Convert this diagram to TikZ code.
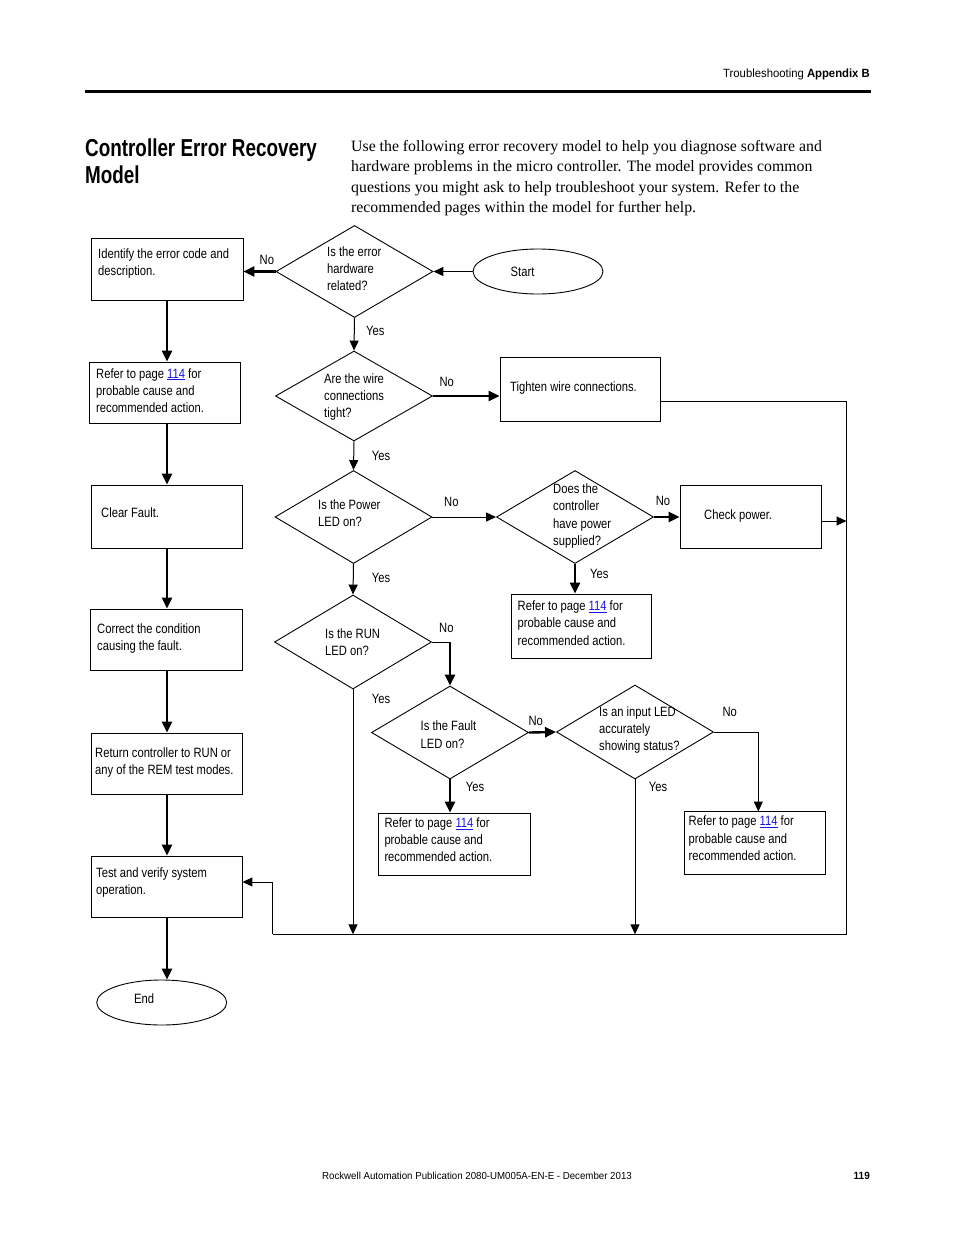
\documentclass[tikz,border=0pt]{standalone}
\usepackage{fontspec}
\setmainfont{Liberation Sans}[FakeStretch=0.83]
\newfontfamily\titlefont{Liberation Sans}[FakeStretch=0.77]
\newfontfamily\hdrfont{Liberation Sans}[FakeStretch=0.95]
\newfontfamily\bodyfont{Liberation Serif}
\usetikzlibrary{arrows.meta,shapes.geometric}
\definecolor{linkblue}{RGB}{20,20,235}
\newcommand{\fc}{\fontsize{13.5}{17.3}\selectfont}
\newcommand{\pg}{\textcolor{linkblue}{\underline{114}}}
\newcommand{\tb}[1]{\parbox[t]{230pt}{\fc\raggedright #1}}
\tikzset{
  box/.style={draw, rectangle, line width=0.9pt, inner sep=0pt},
  dia/.style={draw, diamond, line width=0.9pt, inner sep=0pt, minimum width=157pt},
  ell/.style={draw, ellipse, line width=0.9pt, inner sep=0pt, minimum width=130pt, minimum height=45pt},
  txt/.style={anchor=base west, inner sep=0pt},
  thk/.style={line width=2.4pt, -{Triangle[length=11pt,width=10pt]}},
  thn/.style={line width=1pt, -{Triangle[length=10pt,width=9pt]}},
  ln/.style={line width=1pt},
}
\begin{document}
\begin{tikzpicture}[x=1pt,y=-1pt]
\useasboundingbox (0,0) rectangle (954,1235);
% header
\node[anchor=base east, inner sep=0pt] (hdr) at (870,77.5) {\hdrfont\fontsize{11.9}{13}\selectfont Troubleshooting \textbf{Appendix B}};
\coordinate (ruleL) at (85,91.5);
\coordinate (ruleR) at (871,91.5);
\draw[line width=3pt] (ruleL) -- (ruleR);
% title and intro
\node[txt] (title) at (85,156.5) {\parbox[t]{260pt}{\titlefont\bfseries\fontsize{24.5}{26.5}\selectfont Controller Error Recovery\\Model}};
\node[txt] (intro) at (351,151.5) {\parbox[t]{520pt}{\bodyfont\fontsize{15.8}{20.3}\selectfont Use the following error recovery model to help you diagnose software and\\hardware problems in the micro controller. The model provides common\\questions you might ask to help troubleshoot your system. Refer to the\\recommended pages within the model for further help.}};
% footer
\node[anchor=base, inner sep=0pt] (foot) at (477,1179) {\hdrfont\fontsize{10.2}{12}\selectfont Rockwell Automation Publication 2080-UM005A-EN-E - December 2013};
\node[anchor=base east, inner sep=0pt] (pno) at (870,1179) {\hdrfont\fontsize{10.5}{12}\selectfont\bfseries 119};

% left column
\node[box, minimum width=152pt, minimum height=62pt] (b1) at (167,269) {};
\node[box, minimum width=151pt, minimum height=61pt] (b2) at (164.5,392.5) {};
\node[box, minimum width=151pt, minimum height=63pt] (b3) at (166.5,516.5) {};
\node[box, minimum width=152pt, minimum height=61pt] (b4) at (166,639.5) {};
\node[box, minimum width=151pt, minimum height=61pt] (b5) at (166.5,763.5) {};
\node[box, minimum width=151pt, minimum height=61pt] (b6) at (166.5,886.5) {};
\node[ell] (endn) at (161.7,1002.5) {};

\node[txt] (t1) at (98,258) {\tb{Identify the error code and\\description.}};
\node[txt] (t2) at (96,378) {\tb{Refer to page \pg{} for\\probable cause and\\recommended action.}};
\node[txt] (t3) at (101,517.7) {\tb{Clear Fault.}};
\node[txt] (t4) at (97,633) {\tb{Correct the condition\\causing the fault.}};
\node[txt] (t5) at (95,757) {\tb{Return controller to RUN or\\any of the REM test modes.}};
\node[txt] (t6) at (96,877) {\tb{Test and verify system\\operation.}};
\node[txt] (tend) at (134,1003) {\tb{End}};

\draw[thk] (b1.south) -- (b1.south |- b2.north);
\draw[thk] (b2.south -| b1.south) -- (b1.south |- b3.north);
\draw[thk] (b3.south -| b1.south) -- (b1.south |- b4.north);
\draw[thk] (b4.south -| b1.south) -- (b1.south |- b5.north);
\draw[thk] (b5.south -| b1.south) -- (b1.south |- b6.north);
\draw[thk] (b6.south -| b1.south) -- (b1.south |- endn.north);

% decisions and boxes
\node[ell] (start) at (538,271.5) {};
\node[dia, minimum height=92pt] (d1) at (354.5,271.5) {};
\node[dia, minimum height=90pt] (d2) at (354,396) {};
\node[box, minimum width=160pt, minimum height=64pt] (tight) at (580,389) {};
\node[dia, minimum height=93pt] (d3) at (353.5,517) {};
\node[dia, minimum height=93pt] (d4) at (575,517) {};
\node[box, minimum width=141pt, minimum height=63pt] (chk) at (750.5,516.5) {};
\node[box, minimum width=140pt, minimum height=64pt] (r2) at (581,626) {};
\node[dia, minimum height=94pt] (d5) at (353,642) {};
\node[dia, minimum height=93pt] (d6) at (450,732.5) {};
\node[dia, minimum height=94pt] (d7) at (635,732) {};
\node[box, minimum width=152pt, minimum height=62pt] (r3) at (454.5,844) {};
\node[box, minimum width=141pt, minimum height=63pt] (r4) at (755,843) {};

\node[txt] (tstart) at (510.5,276.7) {\tb{Start}};
\node[txt] (td1) at (327,256) {\tb{Is the error\\hardware\\related?}};
\node[txt] (td2) at (324,383) {\tb{Are the wire\\connections\\tight?}};
\node[txt] (ttight) at (510,391) {\tb{Tighten wire connections.}};
\node[txt] (td3) at (318,509.3) {\tb{Is the Power\\LED on?}};
\node[txt] (td4) at (553,493.5) {\tb{Does the\\controller\\have power\\supplied?}};
\node[txt] (tchk) at (704,519) {\tb{Check power.}};
\node[txt] (tr2) at (517.5,610.5) {\tb{Refer to page \pg{} for\\probable cause and\\recommended action.}};
\node[txt] (td5) at (325,638.3) {\tb{Is the RUN\\LED on?}};
\node[txt] (td6) at (420.5,730.7) {\tb{Is the Fault\\LED on?}};
\node[txt] (td7) at (599,716) {\tb{Is an input LED\\accurately\\showing status?}};
\node[txt] (tr3) at (384.3,827.3) {\tb{Refer to page \pg{} for\\probable cause and\\recommended action.}};
\node[txt] (tr4) at (688.5,825.7) {\tb{Refer to page \pg{} for\\probable cause and\\recommended action.}};

% labels
\node[txt] (l1) at (259.5,264) {\fc No};
\node[txt] (l2) at (366,335.7) {\fc Yes};
\node[txt] (l3) at (439.3,386) {\fc No};
\node[txt] (l4) at (371.7,460.5) {\fc Yes};
\node[txt] (l5) at (444,506.7) {\fc No};
\node[txt] (l6) at (655.7,505) {\fc No};
\node[txt] (l7) at (590,578.3) {\fc Yes};
\node[txt] (l8) at (371.7,582.3) {\fc Yes};
\node[txt] (l9) at (439,632.7) {\fc No};
\node[txt] (l10) at (371.7,703.3) {\fc Yes};
\node[txt] (l11) at (528.3,725) {\fc No};
\node[txt] (l12) at (722.3,716.7) {\fc No};
\node[txt] (l13) at (465.7,791.7) {\fc Yes};
\node[txt] (l14) at (648.7,791.7) {\fc Yes};

% connectors
\coordinate (rt) at (846.5,401);
\coordinate (br) at (846.5,934.3);
\coordinate (bl) at (272.7,934.3);
\coordinate (r4in) at (758.3,811.5);

\draw[thk] (d1.west) -- (b1.east |- d1.west);
\draw[thn] (start.west) -- (d1.east);
\draw[thn] (d1.south) -- (d2.north);
\draw[thk] (d2.east) -- (d2.east -| tight.west);
\draw[thn] (d2.south) -- (d3.north);
\draw[thn] (d3.east) -- (d4.west);
\draw[thk] (d4.east) -- (d4.east -| chk.west);
\draw[thk] (d4.south) -- (d4.south |- r2.north);
\draw[thn] (d3.south) -- (d5.north);
\draw[ln] (d5.east) -- (d5.east -| d6.north);
\draw[thk] (d5.east -| d6.north) -- (d6.north);
\draw[thn] (d5.south) -- (d5.south |- br);
\draw[thk] (d6.east) -- (d7.west);
\draw[thk] (d6.south) -- (d6.south |- r3.north);
\draw[thn] (d7.east) -| (r4in);
\draw[thn] (d7.south) -- (d7.south |- br);
\draw[ln] (tight.east |- rt) -- (rt) -- (br) -- (bl);
\draw[thn] ([yshift=-4.5pt]chk.east) -- ([yshift=-4.5pt]chk.east -| rt);
\draw[thn] (bl) -- (bl |- 0,882) -- (b6.east |- 0,882);
\end{tikzpicture}
\end{document}
